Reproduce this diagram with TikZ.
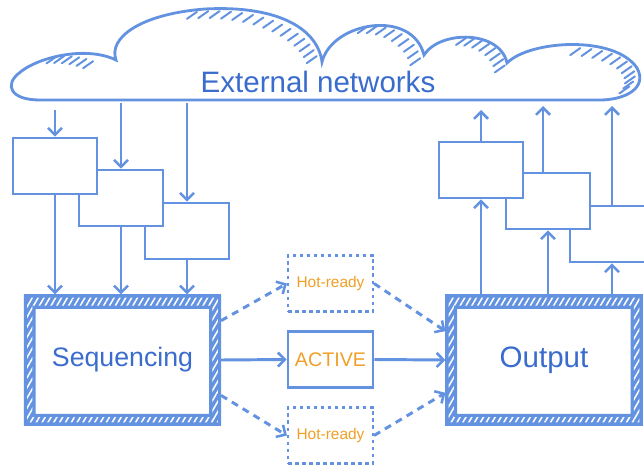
\documentclass[tikz,border=0pt]{standalone}
\usepackage{fontspec}
\setmainfont{Liberation Sans}
\usetikzlibrary{arrows.meta, positioning, calc, patterns.meta}

\definecolor{sketchblue}{RGB}{98,146,224}
\definecolor{inkblue}{RGB}{58,108,206}
\definecolor{amber}{RGB}{240,160,40}

\tikzstyle{arrow} = [line width=2.1pt, -{Straight Barb[length=5pt, width=10pt, line width=1.8pt]}, sketchblue]
\tikzstyle{dasharrow} = [arrow, dash pattern=on 5pt off 4pt]

% outline of the cloud, in pixel-like units
\newcommand{\cloudpath}{(40,100)
    .. controls (10,100) and (5,85) .. (18,74)
    .. controls (35,58) and (85,45) .. (116,60)
    .. controls (108,38) and (140,14) .. (205,9)
    .. controls (280,5) and (318,30) .. (322,62)
    .. controls (332,22) and (412,8) .. (424,55)
    .. controls (440,30) and (500,30) .. (507,63)
    .. controls (530,40) and (615,35) .. (637,68)
    .. controls (648,88) and (625,100) .. (600,100) -- cycle}

\begin{document}
\begin{tikzpicture}[x=0.25mm, y=-0.25mm,
    feedbox/.style={rectangle, draw=sketchblue, fill=white, line width=1.9pt, minimum width=21mm, minimum height=14mm, inner sep=0pt},
    stagebox/.style={rectangle, draw=sketchblue, fill=white, line width=2.2pt, minimum width=48.5mm, minimum height=32mm, text=inkblue},
    slotbox/.style={rectangle, draw=sketchblue, fill=white, line width=1.9pt, minimum width=21.25mm, minimum height=14mm, text=amber},
    standby/.style={slotbox, line width=1.5pt, dash pattern=on 2.5pt off 2.5pt, font=\fontsize{11}{13}\selectfont},
    hatch/.style={sketchblue, line width=1.4pt, line cap=round},
]
\clip (0,0) rectangle (644,465);

% Cloud
\draw[sketchblue, line width=2pt, fill=white] \cloudpath;
\begin{scope}
  \clip \cloudpath;
  \foreach \cx/\cy/\rx/\ry/\from/\to/\n in {65/85/52/32/100/55/5, 215/68/107/60/100/12/14, 372/65/52/42/95/10/8, 466/68/42/33/90/5/7, 575/75/63/30/85/-25/10} {
    \foreach \i in {0,...,\n} {
      \pgfmathsetmacro\a{\from+(\to-\from)*\i/\n}
      \draw[hatch] ({\cx+(\rx-3)*cos(\a)},{\cy-(\ry-3)*sin(\a)}) -- ++(-10,7);
    }
  }
\end{scope}
\node[font=\fontsize{21}{24}\selectfont, text=inkblue] (cloudtext) at (318,82) {External networks};

% Feed-in boxes (drawn back to front)
\node[feedbox] (l3) at (187,231) {};
\node[feedbox] (l2) at (121,198) {};
\node[feedbox] (l1) at (55,166) {};

% Return boxes (drawn back to front)
\node[feedbox] (r3) at (612,234) {};
\node[feedbox] (r2) at (548,201) {};
\node[feedbox] (r1) at (481,170) {};

% Main stages
\node[stagebox, font=\fontsize{19}{22}\selectfont] (seq) at (122.5,360) {Sequencing};
\node[stagebox, font=\fontsize{21}{24}\selectfont] (out) at (544,360) {Output};

% Hatched frames
\foreach \n in {seq,out} {
  \fill[sketchblue, even odd rule] (\n.south west) rectangle (\n.north east)
      ($(\n.south west)+(2.9mm,2.9mm)$) rectangle ($(\n.north east)-(3mm,3.6mm)$);
  \fill[pattern={Lines[angle=60, distance=3.6pt, line width=1.1pt]}, pattern color=white, even odd rule]
      ($(\n.south west)+(0.8mm,0.8mm)$) rectangle ($(\n.north east)-(0.8mm,0.8mm)$)
      ($(\n.south west)+(2.1mm,2.1mm)$) rectangle ($(\n.north east)-(2.2mm,2.8mm)$);
}

% Middle slots
\node[standby] (hottop) at (330.5,283.5) {Hot-ready};
\node[slotbox, font=\fontsize{14}{16}\selectfont] (active) at (330.5,359.5) {ACTIVE};
\node[standby] (hotbot) at (330.5,435.5) {Hot-ready};

% Cloud to feed-in boxes
\coordinate (cl1) at (55,110);
\coordinate (cl2) at (121,103);
\coordinate (cl3) at (187,103);
\draw[arrow] (cl1) -- (l1.north);
\draw[arrow] (cl2) -- (l2.north);
\draw[arrow] (cl3) -- (l3.north);

% Feed-in boxes to sequencing
\foreach \b in {l1,l2,l3}
  \draw[arrow] (\b.south) -- (\b.south |- seq.north);

% Output to return boxes
\foreach \b in {r1,r2,r3}
  \draw[arrow] (\b.south |- out.north) -- (\b.south);

% Return boxes to cloud
\coordinate (cr1) at (481,110);
\coordinate (cr2) at (543,106);
\coordinate (cr3) at (612,106);
\draw[arrow] (r1.north) -- (cr1);
\draw[arrow] (cr2 |- r2.north) -- (cr2);
\draw[arrow] (r3.north) -- (cr3);

% Sequencing through the slots to output
\draw[arrow] (seq.east) -- (active.west);
\draw[arrow] (active.east) -- (out.west);
\draw[dasharrow] ($(seq.north east)!0.2!(seq.south east)$) -- (hottop.west);
\draw[dasharrow] ($(seq.north east)!0.77!(seq.south east)$) -- (hotbot.west);
\draw[dasharrow] (hottop.east) -- ($(out.north west)!0.28!(out.south west)$);
\draw[dasharrow] (hotbot.east) -- ($(out.north west)!0.75!(out.south west)$);

\end{tikzpicture}
\end{document}
